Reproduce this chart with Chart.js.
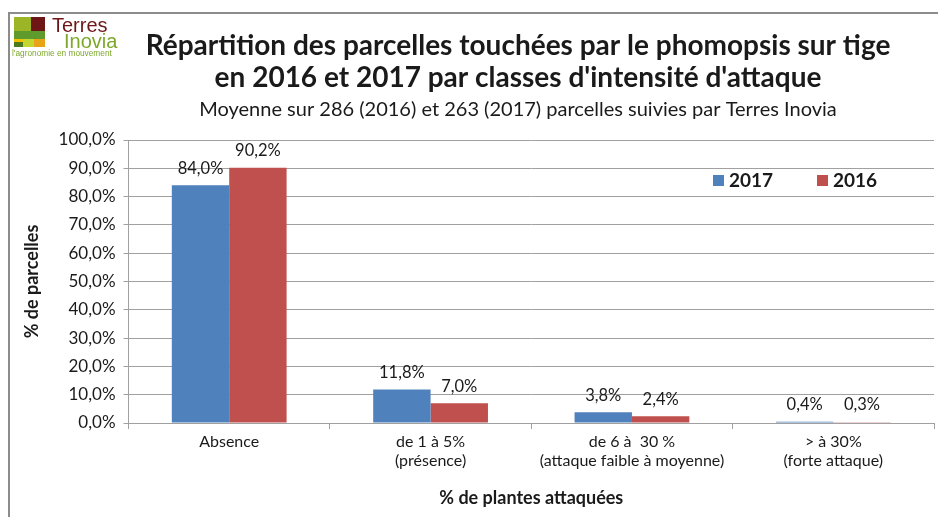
<!DOCTYPE html>
<html><head><meta charset="utf-8">
<script src="https://cdn.jsdelivr.net/npm/chart.js@4.4.1/dist/chart.umd.min.js"></script>
<style>html,body{margin:0;padding:0;background:#fff}#wrap{width:938px;height:517px}</style>
</head><body><div id="wrap"><canvas id="c" width="938" height="517"></canvas></div>
<script>
const categories = [["Absence"], ["de 1 à 5%", "(présence)"], ["de 6 à  30 %", "(attaque faible à moyenne)"], ["> à 30%", "(forte attaque)"]];
const series2017 = [84.0, 11.8, 3.8, 0.4];
const series2016 = [90.2, 7.0, 2.4, 0.3];
const seriesLabels = ["2017", "2016"];
const titleLines = ["Répartition des parcelles touchées par le phomopsis sur tige", "en 2016 et 2017 par classes d'intensité d'attaque"];
const subtitleText = "Moyenne sur 286 (2016) et 263 (2017) parcelles suivies par Terres Inovia";
const yAxisTitle = "% de parcelles";
const xAxisTitle = "% de plantes attaquées";

const BLUE = "#4F81BD", RED = "#C0504D", GRID = "#a0a0a0", TXT = "#1a1a1a";
const FONT = "Lato, 'Open Sans', sans-serif";
const fmt = v => v.toFixed(1).replace('.', ',') + '%';

const decor = {
  id: 'decor',
  afterDraw(chart) {
    const ctx = chart.ctx;
    ctx.save();
    // frame
    ctx.strokeStyle = '#8c8c8c'; ctx.lineWidth = 2;
    ctx.beginPath(); ctx.moveTo(9, 517); ctx.lineTo(9, 13); ctx.lineTo(938, 13); ctx.stroke();
    // logo
    ctx.fillStyle = '#9BB527'; ctx.fillRect(14, 17, 17, 14);
    ctx.fillStyle = '#6E1616'; ctx.fillRect(31, 17, 14, 14);
    ctx.fillStyle = '#5E9A2C'; ctx.fillRect(14, 31, 31, 8);
    ctx.fillStyle = '#F2C200'; ctx.fillRect(14, 39, 9, 3);
    ctx.fillStyle = '#4E7A1E'; ctx.fillRect(14, 42, 9, 5);
    ctx.fillStyle = '#C6D630'; ctx.fillRect(23, 39, 11, 8);
    ctx.fillStyle = '#E8A317'; ctx.fillRect(34, 39, 11, 8);
    ctx.textBaseline = 'alphabetic'; ctx.textAlign = 'left';
    ctx.fillStyle = '#6E1616'; ctx.font = "20px 'Liberation Sans', sans-serif";
    ctx.fillText('Terres', 52, 32);
    ctx.fillStyle = '#7DA82A';
    ctx.fillText('Inovia', 64, 48);
    ctx.font = "8.3px 'Liberation Sans', sans-serif";
    ctx.fillText("l'agronomie en mouvement", 12, 56);
    // titles
    ctx.textAlign = 'center'; ctx.fillStyle = TXT;
    ctx.font = "bold 28px " + FONT;
    ctx.fillText(titleLines[0], 518, 55);
    ctx.fillText(titleLines[1], 518, 87);
    ctx.font = "20px " + FONT;
    ctx.fillText(subtitleText, 518, 116);
    // legend
    ctx.textAlign = 'left'; ctx.textBaseline = 'middle';
    ctx.font = "bold 19px " + FONT;
    const lx = [713, 817];
    chart.data.datasets.forEach((ds, i) => {
      ctx.fillStyle = ds.backgroundColor;
      ctx.fillRect(lx[i], 175, 11, 11);
      ctx.fillStyle = TXT;
      ctx.fillText(ds.label, lx[i] + 16, 181);
    });
    // data labels
    ctx.textAlign = 'center'; ctx.textBaseline = 'middle';
    ctx.font = "16.5px " + FONT; ctx.fillStyle = TXT;
    chart.data.datasets.forEach((ds, i) => {
      chart.getDatasetMeta(i).data.forEach((bar, j) => {
        ctx.fillText(fmt(ds.data[j]), bar.x, bar.y - 17);
      });
    });
    ctx.restore();
  }
};

new Chart(document.getElementById('c'), {
  type: 'bar',
  data: {
    labels: categories,
    datasets: [
      { label: seriesLabels[0], data: series2017, backgroundColor: BLUE, borderWidth: 0 },
      { label: seriesLabels[1], data: series2016, backgroundColor: RED, borderWidth: 0 }
    ]
  },
  options: {
    responsive: false, animation: false,
    layout: { padding: { top: 140, right: 4, left: 17, bottom: 4 } },
    datasets: { bar: { barPercentage: 1, categoryPercentage: 0.57 } },
    plugins: { legend: { display: false }, tooltip: { enabled: false }, title: { display: false } },
    scales: {
      y: {
        min: 0, max: 100,
        ticks: { stepSize: 10, callback: v => fmt(v), color: TXT, font: { family: FONT, size: 17 }, padding: 8 },
        grid: { color: GRID, tickLength: 5, tickColor: GRID },
        border: { color: GRID },
        title: { display: true, text: yAxisTitle, color: TXT, font: { family: FONT, size: 18, weight: 'bold' }, padding: { bottom: 8 } }
      },
      x: {
        offset: true,
        ticks: { color: TXT, font: { family: FONT, size: 16 }, padding: 3 },
        grid: { offset: true, drawOnChartArea: false, tickLength: 6, color: GRID },
        border: { color: GRID },
        title: { display: true, text: xAxisTitle, color: TXT, font: { family: FONT, size: 18, weight: 'bold' }, padding: { top: 14, bottom: 4 } }
      }
    }
  },
  plugins: [decor]
});
</script>
</body></html>
